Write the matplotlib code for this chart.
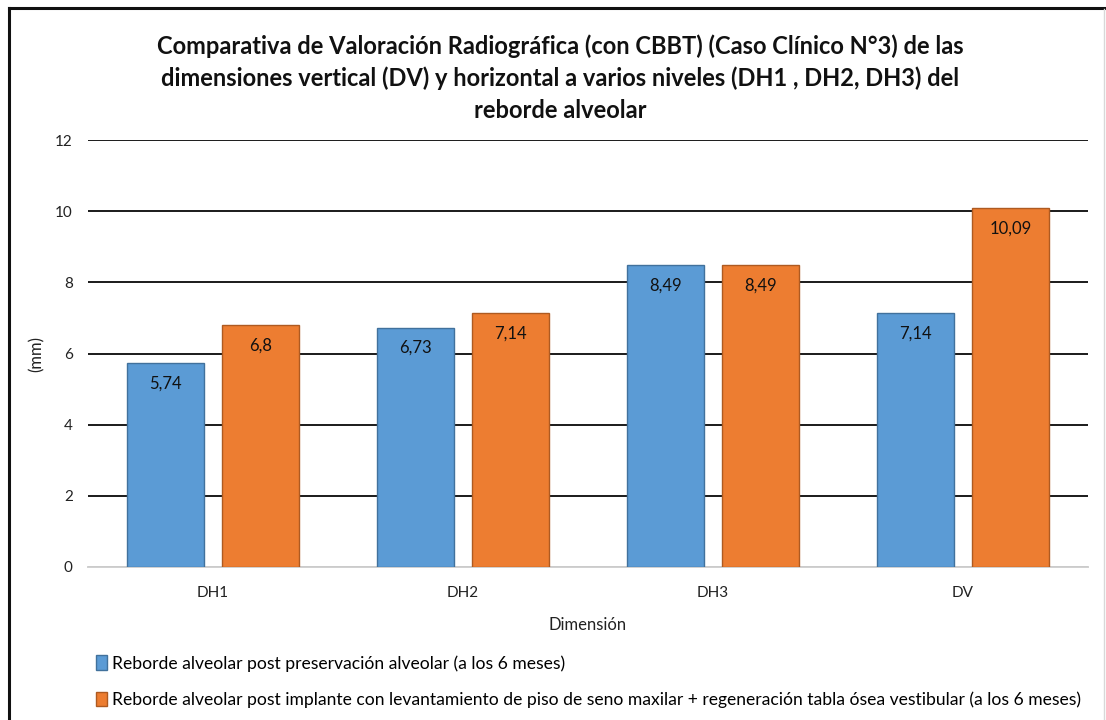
import matplotlib.pyplot as plt
from matplotlib.patches import Rectangle
from matplotlib.lines import Line2D
import numpy as np

plt.rcParams['font.family'] = ['Lato', 'DejaVu Sans']

categories = ["DH1", "DH2", "DH3", "DV"]
preservacion = [5.74, 6.73, 8.49, 7.14]
implante = [6.8, 7.14, 8.49, 10.09]
labels_preservacion = ["5,74", "6,73", "8,49", "7,14"]
labels_implante = ["6,8", "7,14", "8,49", "10,09"]
series_names = [
    "Reborde alveolar post preservación alveolar (a los 6 meses)",
    "Reborde alveolar post implante con levantamiento de piso de seno maxilar + regeneración tabla ósea vestibular (a los 6 meses)",
]
title = ("Comparativa de Valoración Radiográfica (con CBBT) (Caso Clínico N°3) de las\n"
         "dimensiones vertical (DV) y horizontal a varios niveles (DH1 , DH2, DH3) del\n"
         "reborde alveolar")

blue = "#5B9BD5"
blue_edge = "#41719C"
orange = "#ED7D31"
orange_edge = "#AE5A21"

fig = plt.figure(figsize=(11.06, 7.2), dpi=100)
W, H = 1106, 720
ax = fig.add_axes([88 / W, 1 - 567 / H, 1000 / W, (567 - 140) / H])

x = np.arange(len(categories))
width = 0.308
off = 0.19
b1 = ax.bar(x - off, preservacion, width, color=blue, edgecolor=blue_edge, linewidth=1, zorder=3)
b2 = ax.bar(x + off, implante, width, color=orange, edgecolor=orange_edge, linewidth=1, zorder=3)

for bars, vals, labs in ((b1, preservacion, labels_preservacion), (b2, implante, labels_implante)):
    for r, v, t in zip(bars, vals, labs):
        ax.annotate(t, (r.get_x() + r.get_width() / 2, v), xytext=(0, -9),
                    textcoords="offset points", ha="center", va="top",
                    fontsize=12, color="#111111", zorder=4)

ax.set_xlim(-0.5, 3.5)
ax.set_ylim(0, 12)
ax.set_yticks(range(0, 13, 2))
ax.set_xticks(x)
ax.set_xticklabels(categories)
ax.yaxis.grid(True, color="#1a1a1a", linewidth=1.4, zorder=0)
ax.set_axisbelow(True)
for s in ("top", "right", "left"):
    ax.spines[s].set_visible(False)
ax.spines["bottom"].set_color("#d0d0d0")
ax.spines["bottom"].set_linewidth(1.4)
ax.tick_params(axis="both", length=0, labelsize=11, colors="#222222")
ax.tick_params(axis="x", pad=14)
ax.tick_params(axis="y", pad=11)
ax.set_xlabel("Dimensión", fontsize=12, labelpad=12, color="#222222")
ax.set_ylabel("(mm)", fontsize=12, color="#222222")
ax.yaxis.set_label_coords((45 - 88) / 1000, 0.5)

fig.text(560 / W, 1 - 78 / H, title, ha="center", va="center", fontsize=17,
         fontweight="bold", linespacing=1.45, color="#111111")

# legend
handles = [Rectangle((0, 0), 1, 1, facecolor=blue, edgecolor=blue_edge),
           Rectangle((0, 0), 1, 1, facecolor=orange, edgecolor=orange_edge)]
fig.legend(handles, series_names, loc="upper left", bbox_to_anchor=(96 / W, 1 - 655 / H),
           frameon=False, fontsize=12.6, handlelength=0.6, handleheight=0.9,
           handletextpad=0.3, labelspacing=1.15, borderpad=0, borderaxespad=0)

# outer frame
fig.add_artist(Line2D([9 / W, 9 / W], [0, 1 - 8 / H], transform=fig.transFigure, color="#111111", linewidth=2.2))
fig.add_artist(Line2D([9 / W, 1], [1 - 8 / H, 1 - 8 / H], transform=fig.transFigure, color="#111111", linewidth=2.2))
fig.add_artist(Line2D([1104 / W, 1104 / W], [0, 1 - 9 / H], transform=fig.transFigure, color="#d8d8d8", linewidth=1))

fig.savefig("out.png", dpi=100)
